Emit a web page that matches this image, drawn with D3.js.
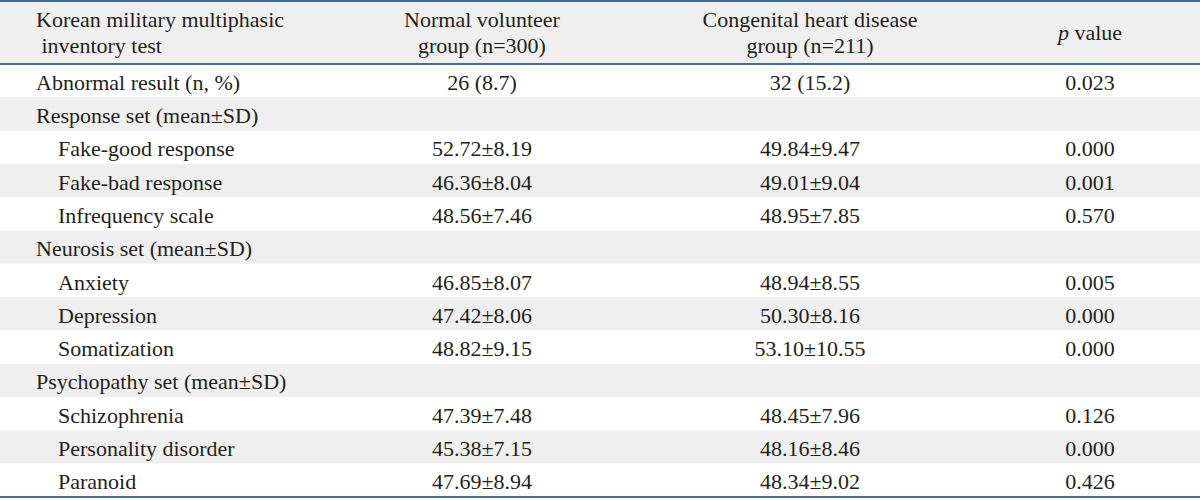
<!DOCTYPE html>
<html><head><meta charset="utf-8">
<script src="https://cdn.jsdelivr.net/npm/d3@7"></script>
<style>body{margin:0;background:#fff}svg{display:block}</style>
</head><body>
<script>
const headers = [["Korean military multiphasic", " inventory test"], ["Normal volunteer", "group (n=300)"], ["Congenital heart disease", "group (n=211)"], ["p value"]];
const rowLabels = ["Abnormal result (n, %)", "Response set (mean±SD)", "Fake-good response", "Fake-bad response", "Infrequency scale", "Neurosis set (mean±SD)", "Anxiety", "Depression", "Somatization", "Psychopathy set (mean±SD)", "Schizophrenia", "Personality disorder", "Paranoid"];
const indented = [false, false, true, true, true, false, true, true, true, false, true, true, true];
const normalGroup = ["26 (8.7)", "", "52.72±8.19", "46.36±8.04", "48.56±7.46", "", "46.85±8.07", "47.42±8.06", "48.82±9.15", "", "47.39±7.48", "45.38±7.15", "47.69±8.94"];
const chdGroup = ["32 (15.2)", "", "49.84±9.47", "49.01±9.04", "48.95±7.85", "", "48.94±8.55", "50.30±8.16", "53.10±10.55", "", "48.45±7.96", "48.16±8.46", "48.34±9.02"];
const pValues = ["0.023", "", "0.000", "0.001", "0.570", "", "0.005", "0.000", "0.000", "", "0.126", "0.000", "0.426"];

const W = 1200, H = 500;
const svg = d3.select("body").append("svg").attr("width", W).attr("height", H);
const font = "'Liberation Serif', 'Times New Roman', serif";
const fs = 22;
const lineColor = "#44699a";
const gray = "#efefef";
const textColor = "#231f20";

const y = d3.scaleBand().domain(d3.range(rowLabels.length)).range([64, 497]);
const colX = d3.scaleOrdinal().domain(["label", "normal", "chd", "p"]).range([36, 482, 810, 1090]);

svg.append("rect").attr("x", 0).attr("y", 0).attr("width", W).attr("height", 64).attr("fill", gray);
svg.selectAll("rect.row").data(rowLabels).join("rect").attr("class", "row")
  .attr("x", 0).attr("y", (d, i) => y(i)).attr("width", W).attr("height", y.bandwidth())
  .attr("fill", (d, i) => i % 2 === 1 ? gray : "#fff");

const hg = svg.append("g").attr("font-family", font).attr("font-size", fs).attr("fill", textColor);
const hx = [colX("label"), colX("normal"), colX("chd"), colX("p")];
headers.forEach((lines, c) => {
  lines.forEach((ln, k) => {
    const yy = lines.length === 1 ? 40 : (k === 0 ? 27 : 53);
    const t = hg.append("text").attr("x", hx[c]).attr("y", yy)
      .attr("text-anchor", c === 0 ? "start" : "middle").style("white-space", "pre");
    if (c === 3) {
      t.append("tspan").attr("font-style", "italic").text("p");
      t.append("tspan").text(" value");
    } else t.text(ln);
  });
});

const bg = svg.append("g").attr("font-family", font).attr("font-size", fs).attr("fill", textColor);
bg.selectAll("text.lab").data(rowLabels).join("text").attr("class", "lab")
  .attr("x", (d, i) => colX("label") + (indented[i] ? 22 : 0))
  .attr("y", (d, i) => y(i) + y.bandwidth() / 2 + 9).text(d => d);
[["normal", normalGroup], ["chd", chdGroup], ["p", pValues]].forEach(([key, arr]) => {
  bg.selectAll("text." + key).data(arr).join("text").attr("class", key)
    .attr("x", colX(key)).attr("text-anchor", "middle")
    .attr("y", (d, i) => y(i) + y.bandwidth() / 2 + 9).text(d => d);
});

[1, 64, 497].forEach(yy => {
  svg.append("line").attr("x1", 0).attr("x2", W).attr("y1", yy).attr("y2", yy)
    .attr("stroke", lineColor).attr("stroke-width", 2);
});
</script>
</body></html>
